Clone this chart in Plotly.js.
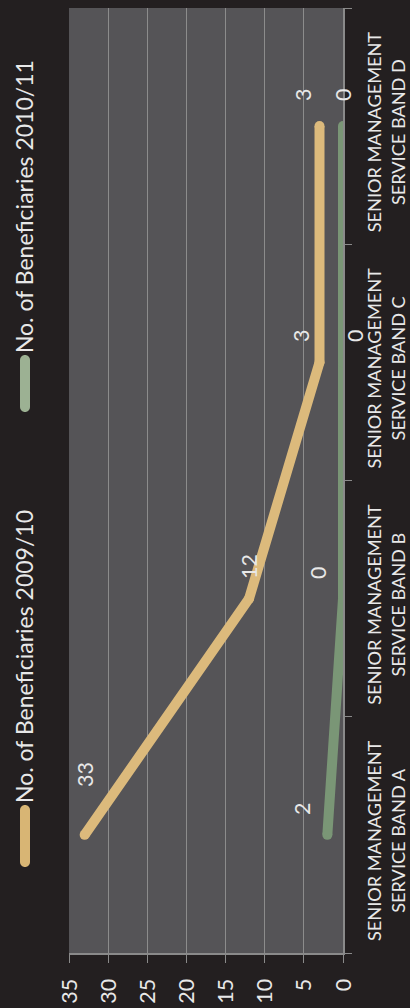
<!DOCTYPE html>
<html>
<head>
<meta charset="utf-8">
<script src="https://cdn.plot.ly/plotly-3.0.1.min.js"></script>
<style>
  html, body { margin: 0; padding: 0; overflow: hidden; background: #231f20; width: 410px; height: 1008px; }
  #chart { position: absolute; left: 0; top: 0; width: 1008px; height: 410px;
           transform-origin: 0 0; transform: translateY(1008px) rotate(-90deg); }
</style>
</head>
<body>
<div id="chart"></div>
<script>
// ---- data ----
const categories = [
  "SENIOR MANAGEMENT<br>SERVICE BAND A",
  "SENIOR MANAGEMENT<br>SERVICE BAND B",
  "SENIOR MANAGEMENT<br>SERVICE BAND C",
  "SENIOR MANAGEMENT<br>SERVICE BAND D"
];
const seriesNames = ["No. of Beneficiaries 2009/10", "No. of Beneficiaries 2010/11"];
const values2009 = [33, 12, 3, 3];
const values2010 = [2, 0, 0, 0];
const yTicks = [0, 5, 10, 15, 20, 25, 30, 35];

// ---- style ----
const FONT = "Lato, 'Open Sans', sans-serif";
const TXT = "#e8e8e8";
const colors = ["#dcba7c", "#7a9676"];
const legendSymbolColors = ["#d8b574", "#9cb193"];
const labelShift2009 = [[60, 0], [32, 0], [26, 19], [31, 17]];
const labelShift2010 = [[26, 25], [26, 25], [26, -12], [31, 0]];

const traces = [];
[values2009, values2010].forEach((vals, k) => {
  traces.push({ x: categories, y: vals, name: seriesNames[k], type: "scatter", mode: "lines+markers",
    line: { color: colors[k], width: 10 }, marker: { color: colors[k], size: 10 },
    hoverinfo: "skip", showlegend: false });
  // legend entry (its symbol is drawn as a rounded bar shape)
  traces.push({ x: [null], y: [null], name: seriesNames[k], type: "scatter", mode: "lines",
    line: { color: "rgba(0,0,0,0)", width: 1 }, hoverinfo: "skip",
    legend: k === 0 ? "legend" : "legend2" });
});

const annotations = [];
function addLabels(vals, shifts) {
  vals.forEach((v, i) => annotations.push({
    x: i, y: v, xref: "x", yref: "y", text: String(v), showarrow: false,
    xanchor: "center", yanchor: "middle",
    xshift: shifts[i][0], yshift: shifts[i][1],
    font: { family: FONT, size: 21.5, color: TXT }
  }));
}
addLabels(values2009, labelShift2009);
addLabels(values2010, labelShift2010);

// plot area in pixels (unrotated frame)
const W = 1008, H = 410, M = { l: 55, r: 8, t: 69, b: 67 };
const pw = W - M.l - M.r, ph = H - M.t - M.b;
function roundBar(pxStart, pxLen, pyCenter, color) {
  const L = pxLen - 10;
  return {
    type: "path", xref: "paper", yref: "paper", xsizemode: "pixel", ysizemode: "pixel",
    xanchor: (pxStart + 5 - M.l) / pw, yanchor: (H - M.b - pyCenter) / ph,
    path: `M0,-5 L${L},-5 C${L + 2.76},-5 ${L + 5},-2.76 ${L + 5},0 C${L + 5},2.76 ${L + 2.76},5 ${L},5 L0,5 C-2.76,5 -5,2.76 -5,0 C-5,-2.76 -2.76,-5 0,-5 Z`,
    fillcolor: color, line: { width: 0 }, layer: "above"
  };
}
const shapes = [
  roundBar(141, 62, 25, legendSymbolColors[0]),
  roundBar(596, 57, 25, legendSymbolColors[1])
];

const legendBase = {
  orientation: "h", xref: "container", yref: "container", y: 0.994, xanchor: "left", yanchor: "top",
  font: { family: FONT, size: 23, color: TXT }, bgcolor: "rgba(0,0,0,0)", itemclick: false
};

const layout = {
  width: W, height: H,
  paper_bgcolor: "#231f20", plot_bgcolor: "#555457",
  margin: { l: M.l, r: M.r, t: M.t, b: M.b, pad: 0 },
  font: { family: FONT, color: TXT },
  showlegend: true,
  legend: Object.assign({}, legendBase, { x: 0.1637 }),
  legend2: Object.assign({}, legendBase, { x: 0.610 }),
  xaxis: {
    type: "category", tickson: "boundaries", ticks: "outside", ticklen: 7, tickcolor: "#8a8a8a",
    showline: true, linecolor: "#8a8a8a", linewidth: 1.5, showgrid: false,
    tickfont: { family: FONT, size: 18.15, color: TXT }, ticklabelstandoff: 15, ticklabelshift: -6,
    range: [-0.5, 3.5], fixedrange: true
  },
  yaxis: {
    range: [0, 35], tickvals: yTicks, ticktext: yTicks.map(String), ticks: "outside", ticklen: 8,
    tickcolor: "#8a8a8a", showline: true, linecolor: "#8a8a8a", linewidth: 1.5,
    showgrid: true, gridcolor: "#8c8c8c", gridwidth: 1, zeroline: false,
    tickfont: { family: FONT, size: 21.5, color: TXT }, ticklabelstandoff: 12, fixedrange: true
  },
  shapes: shapes,
  annotations: annotations
};

Plotly.newPlot("chart", traces, layout, { staticPlot: true, displayModeBar: false });
</script>
</body>
</html>
